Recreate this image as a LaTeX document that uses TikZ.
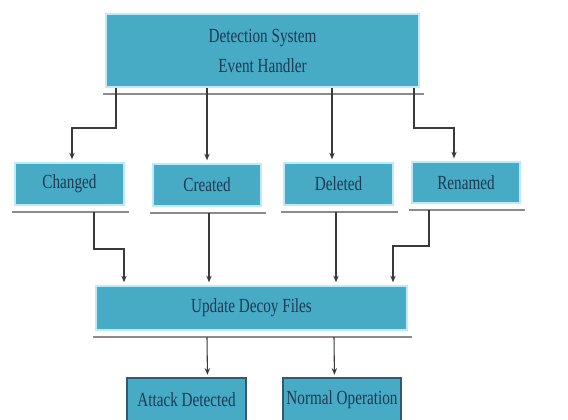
\documentclass[tikz,border=0pt]{standalone}
\usepackage{fontspec}
\usetikzlibrary{calc,arrows.meta}
\newfontfamily\boxfont[FakeStretch=0.76]{Liberation Serif}
\definecolor{boxfill}{HTML}{47ABC6}
\definecolor{boxedge}{HTML}{BDEAF6}
\definecolor{boxtext}{HTML}{1E3A55}
\definecolor{connline}{HTML}{3A3A3A}
\definecolor{shadowgray}{HTML}{8E8A8C}
\definecolor{darkedge}{HTML}{35586A}
\tikzset{
  box/.style={rectangle, fill=boxfill, draw=boxedge, line width=1.5pt, inner sep=0pt,
    text=boxtext, font=\boxfont\fontsize{15}{22.5}\selectfont, align=center},
  endbox/.style={box, draw=darkedge, line width=0.8pt},
  conn/.style={draw=connline, line width=0.8pt, -{Stealth[length=5pt,width=4pt]}, shorten >=2pt},
  shadowline/.style={draw=shadowgray, line width=1pt}
}
\begin{document}
\begin{tikzpicture}[x=0.75pt,y=-0.75pt]
\useasboundingbox (0,0) rectangle (568,419);
\clip (0,0) rectangle (568,419);
\fill[white] (0,0) rectangle (568,419);
% nodes
\node[box, minimum width=234.75pt, minimum height=54.75pt] (top) at (262.5,50.5) {Detection System\\Event Handler};
\node[box, minimum width=81.75pt, minimum height=31.5pt] (chg) at (69.5,184) {Changed};
\node[box, minimum width=81pt, minimum height=31.5pt] (cre) at (207,185) {Created};
\node[box, minimum width=81.75pt, minimum height=31.5pt] (del) at (338.5,184) {Deleted};
\node[box, minimum width=81pt, minimum height=30.75pt] (ren) at (466,182.5) {Renamed};
\node[box, minimum width=233.25pt, minimum height=33pt] (upd) at (251.5,308) {Update Decoy Files};
\node[endbox, minimum width=89.25pt, minimum height=33pt] (att) at (186.5,400) {Attack Detected};
\node[endbox, minimum width=88.5pt, minimum height=33pt] (nor) at (342,400) {Normal Operation};
% shadow lines under boxes
\foreach \n in {top,chg,cre,del,ren,upd}
  \draw[shadowline] ($(\n.south west)+(-2,6)$) -- ($(\n.south east)+(4,6)$);
% connectors from the event handler
\draw[conn] ($(top.south west)+(11,0)$) -- ++(0,40) -| ($(chg.north west)+(58,0)$);
\draw[conn] ($(top.south west)+(102,0)$) -- ($(cre.north west)+(55,0)$);
\draw[conn] ($(top.south west)+(227,0)$) -- ($(del.north west)+(49,0)$);
\draw[conn] ($(top.south west)+(309,0)$) -- ++(0,40) -| ($(ren.north west)+(43,0)$);
% connectors into update
\draw[conn] ($(chg.south west)+(80,6)$) -- ++(0,37) -| ($(upd.north west)+(29,0)$);
\draw[conn] ($(cre.south west)+(57,6)$) -- ($(upd.north west)+(114,0)$);
\draw[conn] ($(del.south west)+(53,6)$) -- ($(upd.north west)+(241,0)$);
\draw[conn] ($(ren.south west)+(18,6)$) -- ++(0,36) -| ($(upd.north west)+(298,0)$);
% connectors to outcomes
\draw[conn] ($(upd.south west)+(112,6)$) -- ($(att.north west)+(81,0)$);
\draw[conn] ($(upd.south west)+(239,6)$) -- ($(nor.north west)+(52,0)$);
\end{tikzpicture}
\end{document}
